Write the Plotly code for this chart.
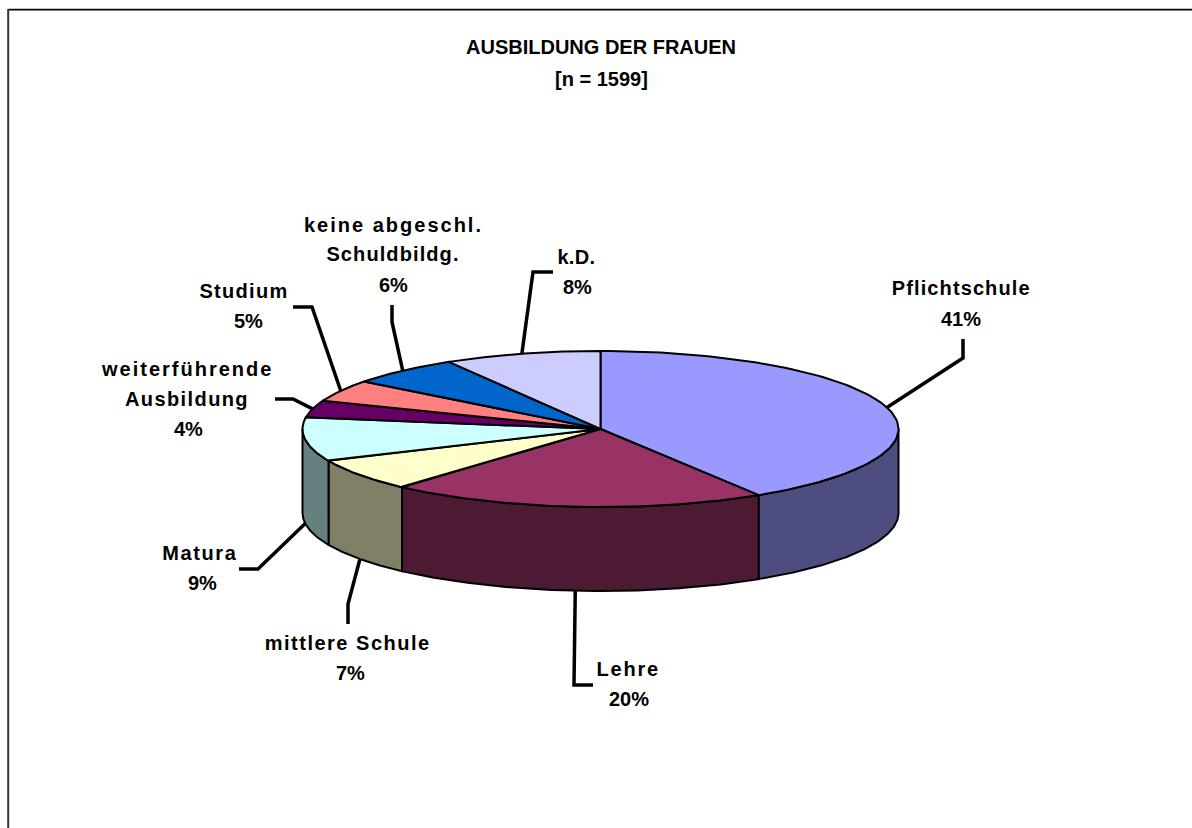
import json
import numpy as np
import plotly.graph_objects as go

# ---- data ----
categories = ["Pflichtschule", "Lehre", "mittlere Schule", "Matura",
              "weiterführende Ausbildung", "Studium",
              "keine abgeschl. Schuldbildg.", "k.D."]
shares = [41.1, 20.5, 6.7, 9.1, 3.5, 4.5, 6.1, 8.5]
percent_labels = ["41%", "20%", "7%", "9%", "4%", "5%", "6%", "8%"]
label_lines = [["Pflichtschule"], ["Lehre"], ["mittlere Schule"], ["Matura"],
               ["weiterführende", "Ausbildung"], ["Studium"],
               ["keine abgeschl.", "Schuldbildg."], ["k.D."]]
top_colors = ["#9999FF", "#993366", "#FFFFCC", "#CCFFFF",
              "#660066", "#FF8080", "#0066CC", "#CCCCFF"]
side_colors = ["#4D4D80", "#4D1A33", "#808066", "#668080",
               "#330033", "#804040", "#003366", "#666680"]
title_lines = ["AUSBILDUNG DER FRAUEN", "[n = 1599]"]

# ---- layout constants (pixels) ----
W, H = 1192, 828
CX, CY, RX, RY, DEPTH = 600.5, 429.0, 298.0, 78.0, 84.0
# centre of every text line of each label (name lines, then percentage)
label_pos = [[(961, 288), (961, 319)],
             [(628, 669), (629, 699)],
             [(347, 643), (350, 673)],
             [(200, 553), (202, 583)],
             [(187, 369), (187, 399), (188, 429)],
             [(244, 291), (248, 321)],
             [(393, 225), (393, 254), (393, 285)],
             [(576, 257), (577, 287)]]
letter_spacing = {"Pflichtschule": 1.1, "Lehre": 1.8, "mittlere Schule": 1.5,
                  "Matura": 1.6, "weiterführende": 2.0, "Ausbildung": 1.4,
                  "Studium": 1.3, "keine abgeschl.": 2.0, "Schuldbildg.": 1.1,
                  "k.D.": 0.3}
elbows = [[(963, 358), (963, 339)], [(574, 685), (593, 685)],
          [(348, 604), (348, 624)], [(258, 569), (239, 569)],
          [(293, 399), (275, 399)], [(312, 307), (293, 307)],
          [(392, 322), (392, 305)], [(533, 272), (553, 272)]]

fractions = np.cumsum([0] + shares) / sum(shares)
angles = fractions * 2 * np.pi


def arc(a0, a1, n=90):
    t = np.linspace(a0, a1, n)
    return CX + RX * np.sin(t), CY - RY * np.cos(t)


fig = go.Figure()
OUT = dict(color="black", width=2)

# side wall (only the front half of the pie, 90..270 degrees)
for i in range(len(shares)):
    a0, a1 = max(angles[i], np.pi / 2), min(angles[i + 1], 3 * np.pi / 2)
    if a1 <= a0:
        continue
    x, y = arc(a0, a1)
    fig.add_trace(go.Scatter(
        x=np.r_[x, x[::-1], x[0]], y=np.r_[y, y[::-1] + DEPTH, y[0]],
        mode="lines", fill="toself", fillcolor=side_colors[i], line=OUT,
        hoverinfo="skip", showlegend=False))

# top face
for i, cat in enumerate(categories):
    x, y = arc(angles[i], angles[i + 1])
    fig.add_trace(go.Scatter(
        x=np.r_[CX, x, CX], y=np.r_[CY, y, CY], name=cat,
        mode="lines", fill="toself", fillcolor=top_colors[i], line=OUT,
        hoverinfo="name", showlegend=False))

# leader lines: start on the rim at each slice's middle angle
for i in range(len(shares)):
    mid = (angles[i] + angles[i + 1]) / 2
    x0, y0 = CX + RX * np.sin(mid), CY - RY * np.cos(mid)
    if np.cos(mid) < 0:
        y0 += DEPTH
    fig.add_trace(go.Scatter(
        x=[x0] + [p[0] for p in elbows[i]], y=[y0] + [p[1] for p in elbows[i]],
        mode="lines", line=dict(color="black", width=3.5),
        hoverinfo="skip", showlegend=False))

annotations = []
FONT = "Liberation Sans, Arial, sans-serif"
for i, positions in enumerate(label_pos):
    for (lx, ly), text in zip(positions, label_lines[i] + [percent_labels[i]]):
        annotations.append(dict(
            x=lx, y=ly, text=f"<b>{text}</b>", showarrow=False,
            xanchor="center", yanchor="middle", xref="x", yref="y",
            font=dict(family=FONT, size=20, color="black")))
for j, text in enumerate(title_lines):
    annotations.append(dict(
        x=601, y=47 + j * 32, text=f"<b>{text}</b>", showarrow=False,
        xanchor="center", yanchor="middle", xref="x", yref="y",
        font=dict(family=FONT, size=20, color="black")))

fig.update_layout(
    width=W, height=H, margin=dict(l=0, r=0, t=0, b=0),
    paper_bgcolor="white", plot_bgcolor="white", showlegend=False,
    xaxis=dict(range=[0, W], visible=False, fixedrange=True),
    yaxis=dict(range=[H, 0], visible=False, fixedrange=True),
    annotations=annotations,
    shapes=[
        dict(type="line", xref="x", yref="y", x0=8, x1=W + 5, y0=8.5, y1=8.5,
             line=dict(color="#C8C8C8", width=1), layer="below"),
        dict(type="line", xref="x", yref="y", x0=8, x1=W + 5, y0=9.7, y1=9.7,
             line=dict(color="black", width=1.5), layer="below"),
        dict(type="line", xref="x", yref="y", x0=8.2, x1=8.2, y0=9, y1=H + 5,
             line=dict(color="#333333", width=2), layer="below"),
    ],
)
post = """
document.body.style.margin='0';
document.body.style.overflow='hidden';
var sp = %s;
document.querySelectorAll('.annotation-text').forEach(function (t) {
  var k = t.textContent;
  if (sp[k] !== undefined) { t.style.letterSpacing = sp[k] + 'px'; }
});
""" % json.dumps(letter_spacing, ensure_ascii=False)
fig.write_html("out.html", config={"displayModeBar": False}, post_script=post)
